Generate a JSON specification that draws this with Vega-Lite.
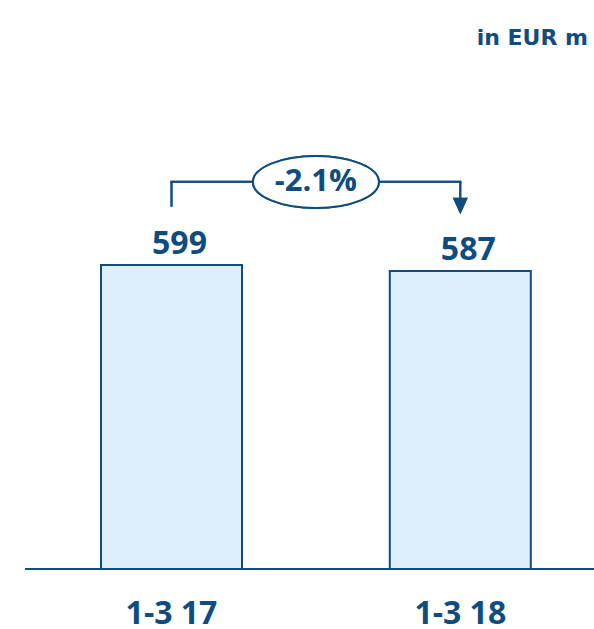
{
  "$schema": "https://vega.github.io/schema/vega-lite/v6.json",
  "width": 594,
  "height": 629,
  "padding": 0,
  "autosize": {"type": "none"},
  "background": "white",
  "config": {"view": {"stroke": null}},
  "datasets": {
    "bars": [
      {"period": "1-3 17", "pos": 1, "value": 599},
      {"period": "1-3 18", "pos": 2, "value": 587}
    ],
    "notes": [
      {"label": "-2.1%", "pos": 1.5, "value": 764.5},
      {"label": "in EUR m", "pos": 2.44217, "value": 1062}
    ]
  },
  "layer": [
    {
      "data": {"name": "bars"},
      "mark": {"type": "bar", "size": 141, "fill": "#dff0fc", "stroke": "#0f4c7f", "strokeWidth": 2},
      "encoding": {
        "x": {"field": "pos", "type": "quantitative", "scale": {"domain": [0.40616, 2.46295], "nice": false, "zero": false, "padding": 0}, "axis": null},
        "y": {"field": "value", "type": "quantitative", "scale": {"domain": [-118.2, 1121.2], "nice": false, "zero": false}, "axis": null},
        "y2": {"datum": 0}
      }
    },
    {
      "data": {"name": "bars"},
      "mark": {"type": "rule", "stroke": "#0f4c7f", "strokeWidth": 2},
      "encoding": {"x": {"datum": 0.4927}, "x2": {"datum": 2.46295}, "y": {"datum": 0}}
    },
    {
      "data": {"name": "bars"},
      "mark": {"type": "text", "font": "Open Sans", "fontWeight": "bold", "fontSize": 32, "color": "#0f4c7f", "baseline": "alphabetic", "dy": -11, "dx": 8},
      "encoding": {
        "x": {"field": "pos", "type": "quantitative"},
        "y": {"field": "value", "type": "quantitative"},
        "text": {"field": "value", "type": "quantitative"}
      }
    },
    {
      "data": {"name": "bars"},
      "mark": {"type": "text", "font": "Open Sans", "fontWeight": "bold", "fontSize": 32, "color": "#0f4c7f", "baseline": "alphabetic"},
      "encoding": {
        "x": {"field": "pos", "type": "quantitative"},
        "y": {"datum": -108.4},
        "text": {"field": "period", "type": "nominal"}
      }
    },
    {
      "data": {"name": "bars"},
      "mark": {"type": "rule", "stroke": "#0f4c7f", "strokeWidth": 2, "strokeCap": "square"},
      "encoding": {"x": {"datum": 1}, "x2": {"datum": 2}, "y": {"datum": 763.2}}
    },
    {
      "data": {"name": "bars"},
      "mark": {"type": "rule", "stroke": "#0f4c7f", "strokeWidth": 2},
      "encoding": {"x": {"datum": 1}, "y": {"datum": 763.2}, "y2": {"datum": 713.9}}
    },
    {
      "data": {"name": "bars"},
      "mark": {"type": "rule", "stroke": "#0f4c7f", "strokeWidth": 2},
      "encoding": {"x": {"datum": 2}, "y": {"datum": 763.2}, "y2": {"datum": 728}}
    },
    {
      "data": {"name": "bars"},
      "mark": {"type": "point", "shape": "M-1,-1.1L1,-1.1L0,1.1Z", "size": 225, "filled": true, "fill": "#0f4c7f", "strokeWidth": 0, "opacity": 1},
      "encoding": {"x": {"datum": 2}, "y": {"datum": 715.3}}
    },
    {
      "data": {"name": "bars"},
      "mark": {"type": "point", "shape": "M-1,0C-1,-0.228,-0.5523,-0.413,0,-0.413C0.5523,-0.413,1,-0.228,1,0C1,0.228,0.5523,0.413,0,0.413C-0.5523,0.413,-1,0.228,-1,0Z", "size": 15876, "filled": true, "fill": "white", "stroke": "#0f4c7f", "strokeWidth": 2, "opacity": 1},
      "encoding": {"x": {"datum": 1.5}, "y": {"datum": 762.6}}
    },
    {
      "data": {"name": "notes"},
      "transform": [{"filter": "datum.label == '-2.1%'"}],
      "mark": {"type": "text", "font": "Open Sans", "fontWeight": "bold", "fontSize": 31, "color": "#0f4c7f", "baseline": "middle", "dy": 1},
      "encoding": {
        "x": {"field": "pos", "type": "quantitative"},
        "y": {"field": "value", "type": "quantitative"},
        "text": {"field": "label"}
      }
    },
    {
      "data": {"name": "notes"},
      "transform": [{"filter": "datum.label == 'in EUR m'"}],
      "mark": {"type": "text", "font": "DejaVu Sans", "fontWeight": "bold", "fontSize": 22, "color": "#0f4c7f", "baseline": "alphabetic", "align": "right"},
      "encoding": {
        "x": {"field": "pos", "type": "quantitative"},
        "y": {"datum": 1033.4},
        "text": {"field": "label"}
      }
    }
  ]
}
